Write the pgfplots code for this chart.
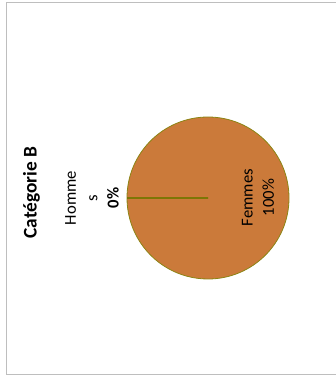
\documentclass[border=0pt]{standalone}
\usepackage{pgfplots}
\usepackage{pgfplotstable}
\pgfplotsset{compat=1.18}
\usepackage{fontspec}
\setmainfont{Carlito}
\definecolor{piefill}{RGB}{203,122,58}
\definecolor{pieedge}{RGB}{140,132,20}
\definecolor{pieline}{RGB}{125,118,5}
\definecolor{frame}{RGB}{190,190,190}

\pgfplotstableread{
label value
Hommes 0
Femmes 100
}\piedata

\begin{document}
\begin{tikzpicture}
\useasboundingbox (0,0) rectangle (252pt,282pt);
\pgfplotstablegetelem{0}{value}\of\piedata
\pgfmathsetmacro\vA{\pgfplotsretval}
\pgfplotstablegetelem{1}{value}\of\piedata
\pgfmathsetmacro\vB{\pgfplotsretval}
\pgfmathsetmacro\sA{180}
\pgfmathsetmacro\eA{180-3.6*\vA}
\pgfmathsetmacro\eB{\eA-3.6*\vB}
\begin{axis}[
  at={(0,0)}, anchor=origin,
  width=252pt, height=282pt, scale only axis,
  xmin=0, xmax=336, ymin=0, ymax=376,
  hide axis, clip=false,
]
\draw[frame, line width=0.75pt] (axis cs:6,1) rectangle (axis cs:345,373);
% Femmes slice
\fill[piefill, draw=pieedge, line width=0.6pt]
  (axis cs:208,178) -- ++(\eA:60.75pt) arc[start angle=\eA, end angle=\eB, radius=60.75pt] -- cycle;
% Hommes slice (0 %)
\draw[pieline, line width=1pt]
  (axis cs:208,178) -- ++(\sA:60.75pt) arc[start angle=\sA, end angle=\eA, radius=60.75pt] -- cycle;
\node[rotate=90, font=\fontsize{14.5}{17}\selectfont\bfseries] at (axis cs:31.5,183.5) {Catégorie B};
\node[rotate=90, align=center, font=\fontsize{12.5}{16}\selectfont] at (axis cs:92,178) {Homme\\s\\\textbf{0\%}};
\node[rotate=90, align=center, font=\fontsize{12.5}{16}\selectfont] at (axis cs:258,178.5) {Femmes\\100\%};
\end{axis}
\end{tikzpicture}
\end{document}
